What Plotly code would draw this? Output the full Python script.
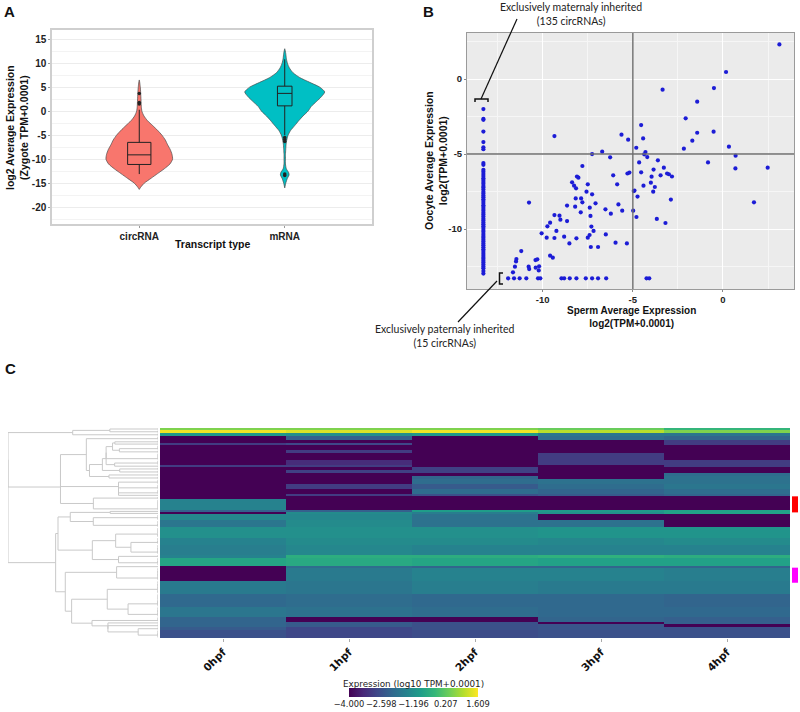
import numpy as np
import plotly.graph_objects as go

# ---------------- DATA ----------------
# Panel A: violin outlines (y level, half-width in category units) and box stats
violin_y_circ = [6.5, 5, 3, 1, 0, -1, -2, -3, -4, -5, -6, -7, -8, -9, -10, -11, -12, -13, -14, -15, -15.8, -16.3]
violin_w_circ = [0, 0.007, 0.011, 0.014, 0.018, 0.032, 0.057, 0.092, 0.126, 0.156, 0.179, 0.195, 0.213, 0.225, 0.229,
                 0.211, 0.172, 0.126, 0.080, 0.034, 0.011, 0]
violin_y_mrna = [13, 12, 11, 10, 9, 8, 7, 6, 5, 4, 3, 2, 1, 0, -1, -2, -3, -4, -5, -6, -7, -8, -9, -10, -11, -12,
                 -12.8, -13.3, -14, -15, -16]
violin_w_mrna = [0, 0.007, 0.011, 0.018, 0.032, 0.057, 0.103, 0.172, 0.241, 0.275, 0.252, 0.218, 0.183, 0.160,
                 0.126, 0.096, 0.069, 0.041, 0.023, 0.014, 0.009, 0.007, 0.005, 0.005, 0.005, 0.011, 0.027,
                 0.030, 0.018, 0.007, 0]
transcript_types = ["circRNA", "mRNA"]
box_q1 = [-11.1, 1.1]
box_median = [-9.1, 3.7]
box_q3 = [-6.5, 5.2]
box_lower = [-13.1, -5.0]
box_upper = [0.3, 10.8]
outliers_circ = [1.5, 1.8, 3.7]
outliers_mrna = [-5.5, -5.9, -6.3, -13.1, -13.4]

# Panel B: sperm vs oocyte log2 expression
detection_floor = -13.29
both_sperm = [3.13, 0.17, -0.5, -3.35, -1.43, -2.07, -4.54, -0.52, -1.43, -9.35, -5.63, -4.43, -5.26, -1.70, 0.33,
              -4.81, -2.17, -6.70, -4.30, -7.26, -4.37, 0.70, -6.26, -4.20, -3.61, -4.65, -0.83, -7.80, -3.28, 0.69,
              2.48, -3.85, -5.19, -5.3, -4.54, -3.1, -3.0, -2.83, -6.09, -8.02, -8.1, -3.96, -3.46, -8.37, -8.26,
              -8.15, -7.5, -5.87, -4.0, -3.78, -3.87, -4.91, -4.95, -4.41, -4.74, -7.57, -7.26, -10.76, -8.17, -7.87,
              -7.8, -7.07, -5.80, -2.89, 1.72, -8.65, -8.2, -7.39, -6.52, -5.59, -4.98, -7.89, -6.22, -9.35, -9.07,
              -7.35, -4.80, -9.02, -8.65, -3.67, -3.19, -9.59, -9.74, -7.30, -7.18, -9.24, -10.06, -9.78, -9.35,
              -8.81, -8.13, -7.5, -7.4, -6.5, -5.96, -5.33, -8.52, -7.33, -6.93, -11.19, -9.59, -9.44, -10.4, -10.3,
              -11.46, -11.48, -11.54, -10.78, -10.75, -10.39, -10.2, -10.22, -11.65]
both_oocyte = [2.31, 0.47, -0.6, -0.71, -1.51, -2.62, -3.07, -3.51, -3.58, -3.8, -3.71, -3.96, -4.04, -4.11, -4.51,
               -4.58, -4.64, -4.84, -4.87, -5.0, -5.02, -5.11, -5.22, -5.2, -5.42, -5.56, -5.56, -5.8, -5.91, -5.96,
               -5.91, -6.04, -6.24, -6.3, -6.22, -6.3, -6.35, -6.5, -6.42, -6.58, -6.5, -6.51, -6.42, -6.89, -7.11,
               -7.29, -7.02, -7.02, -6.91, -7.2, -7.51, -7.44, -7.47, -7.11, -7.84, -7.51, -7.69, -8.24, -7.96, -7.96,
               -8.22, -8.29, -8.36, -8.04, -8.22, -8.44, -8.51, -8.58, -8.69, -8.78, -8.78, -8.89, -8.98, -9.07, -9.11,
               -9.13, -9.2, -9.38, -9.47, -9.33, -9.6, -9.58, -9.82, -9.84, -10.13, -10.13, -10.29, -10.58, -10.6,
               -10.51, -10.62, -10.58, -10.4, -10.36, -10.91, -10.96, -10.96, -11.2, -11.2, -11.47, -11.78, -11.91,
               -12.07, -12.02, -12.0, -12.16, -12.51, -12.51, -12.67, -12.58, -12.49, -12.76, -12.89]
maternal_only_oocyte = [-2.0, -2.66, -2.72, -3.5, -4.2, -4.55, -4.68, -5.6, -5.72, -6.05, -6.18, -6.33, -6.47, -6.61,
                        -6.74, -6.86, -6.99, -7.13, -7.24, -7.37, -7.52, -7.63, -7.77, -7.88, -8.02, -8.14, -8.27,
                        -8.41, -8.53, -8.66, -8.79, -8.92, -9.04, -9.17, -9.31, -9.43, -9.56, -9.69, -9.81, -9.94,
                        -10.07, -10.19, -10.33, -10.46, -10.58, -10.71, -10.84, -10.96, -11.09, -11.22, -11.35,
                        -11.47, -11.6, -11.73, -11.86, -11.98, -12.11, -12.24, -12.37, -12.5, -12.62, -12.8, -12.97]
paternal_only_sperm = [-11.92, -11.59, -11.28, -10.91, -10.26, -10.13, -8.96, -8.81, -8.5, -8.13, -7.61, -7.26,
                       -6.93, -6.48, -4.24, -4.09]
sperm_cutoff = -5
oocyte_cutoff = -5

# Panel C: heatmap row blocks (rows per block) and log10 expression per stage
stages = ["0hpf", "1hpf", "2hpf", "3hpf", "4hpf"]
block_rows = [2, 3, 3, 4, 3, 2, 5, 3, 7, 5, 2, 3, 3, 3, 3, 5, 5, 5, 2, 3, 11, 2, 2, 6, 7, 10, 7, 10, 3, 8, 2, 13,
              13, 13, 10, 5, 2, 3, 3, 8]
expr_0hpf = [0.5, 1.5, -1.0, -4, -4, -3.0, -4, -4, -4, -4, -3.0, -4, -4, -4, -4, -4, -4, -4, -4, -4, -1.5, -2.3, -4,
             -1.4, -1.8, -1.2, -1.5, -1.6, -1.5, -0.7, -4, -4, -1.7, -2.1, -1.8, -2.2, -2.2, -2.2, -2.4, -2.6]
expr_1hpf = [0.5, 1.3, -1.2, -2.3, -4, -2.8, -4, -3.0, -4, -3.3, -3.0, -4, -2.9, -4, -4, -4, -3.0, -4, -3.0, -4, -4,
             -2.3, -1.3, -1.4, -1.3, -1.2, -1.3, -1.4, -0.5, -0.6, -2.0, -1.7, -1.8, -2.0, -1.9, -4, -2.4, -2.4,
             -2.8, -2.8]
expr_2hpf = [0.5, 1.5, -1.0, -4, -4, -4, -4, -4, -4, -4, -4, -2.9, -2.9, -4, -2.2, -2.0, -2.4, -2.0, -2.6, -4, -4,
             -0.9, -1.6, -1.9, -1.9, -1.2, -1.3, -1.5, -0.5, -0.7, -2.2, -1.5, -1.6, -2.1, -2.0, -4, -2.6, -2.6,
             -2.6, -2.7]
expr_3hpf = [0.3, 1.0, -1.8, -2.0, -4, -4, -4, -4, -3.0, -3.0, -4, -4, -4, -4, -4, -1.9, -2.0, -2.2, -2.4, -4, -4,
             -1.0, -1.2, -4, -1.9, -1.1, -1.4, -1.5, -0.4, -0.8, -2.2, -1.5, -1.7, -2.1, -2.1, -2.2, -4, -2.5,
             -2.5, -2.6]
expr_4hpf = [-0.3, 0.5, -1.8, -2.2, -3.0, -3.0, -4, -4, -4, -3.0, -3.0, -4, -4, -2.0, -1.9, -1.9, -1.8, -2.0, -2.2,
             -4, -4, -0.8, -0.8, -4, -4, -1.1, -1.3, -1.5, -0.5, -0.8, -2.2, -1.6, -1.7, -2.2, -2.1, -2.3, -2.3,
             -4, -2.6, -2.6]
side_marks = [(68, 83, "#ff0000"), (139, 153, "#ff00ff")]  # (first row, last row, colour)
cbar_ticks = [-4.0, -2.598, -1.196, 0.207, 1.609]
cbar_ticktext = ["\u22124.000", "\u22122.598", "\u22121.196", "0.207", "1.609"]

# ---------------- HELPERS ----------------
W, H = 800, 712
def px(x):
    return x / W
def py(y):
    return 1 - y / H

SANS = "Liberation Sans, Arial, sans-serif"
NOTE = "Lato, Open Sans, sans-serif"
DJV = "DejaVu Sans, sans-serif"

fig = go.Figure()

# ---------------- PANEL A ----------------
for ci, (vy, vw, col) in enumerate([(violin_y_circ, violin_w_circ, "#F8766D"),
                                    (violin_y_mrna, violin_w_mrna, "#00BFC4")]):
    c = ci + 1
    vy = np.array(vy, float)
    vw = np.array(vw, float)
    xs = np.concatenate([c + vw, (c - vw)[::-1]])
    ys = np.concatenate([vy, vy[::-1]])
    fig.add_trace(go.Scatter(x=xs, y=ys, mode="lines", fill="toself", fillcolor=col,
                             line=dict(color="#4a4a4a", width=0.7, shape="spline", smoothing=0.6),
                             hoverinfo="skip", showlegend=False, xaxis="x", yaxis="y"))

# boxes on an overlaying axis pair so they sit above the filled violins
for ci, bw in enumerate([0.16, 0.10]):
    fig.add_trace(go.Box(x=[ci + 1], q1=[box_q1[ci]], median=[box_median[ci]], q3=[box_q3[ci]],
                         lowerfence=[box_lower[ci]], upperfence=[box_upper[ci]], width=bw, orientation="v",
                         fillcolor="rgba(0,0,0,0)", line=dict(color="#222222", width=1),
                         whiskerwidth=0, boxpoints=False, showlegend=False, xaxis="x5", yaxis="y5"))
fig.add_trace(go.Scatter(x=[1] * len(outliers_circ) + [2] * len(outliers_mrna),
                         y=outliers_circ + outliers_mrna, mode="markers",
                         marker=dict(color="#222222", size=3.5), showlegend=False, xaxis="x5", yaxis="y5"))

# ---------------- PANEL B ----------------
bx = both_sperm + [detection_floor] * len(maternal_only_oocyte) + paternal_only_sperm
by = both_oocyte + maternal_only_oocyte + [detection_floor] * len(paternal_only_sperm)
fig.add_trace(go.Scatter(x=bx, y=by, mode="markers", marker=dict(color="#1c1cd6", size=4.2),
                         showlegend=False, xaxis="x2", yaxis="y2"))

# ---------------- PANEL C ----------------
mat = np.column_stack([np.repeat(np.array(v, float), block_rows)
                       for v in [expr_0hpf, expr_1hpf, expr_2hpf, expr_3hpf, expr_4hpf]])
nrows = mat.shape[0]
fig.add_trace(go.Heatmap(z=mat, x=stages, y=list(range(nrows)), colorscale="Viridis",
                         zmin=cbar_ticks[0], zmax=cbar_ticks[-1], xaxis="x4", yaxis="y4",
                         colorbar=dict(orientation="h", x=px(413.5), xanchor="center", y=py(678), yanchor="top",
                                       xpad=0, ypad=0,
                                       len=129, lenmode="pixels", thickness=9, outlinewidth=0,
                                       title=dict(text="Expression (log10 TPM+0.0001)", side="top",
                                                  font=dict(family=DJV, size=8.8, color="#222")),
                                       tickvals=cbar_ticks, ticktext=cbar_ticktext, ticks="", tickangle=0,
                                       tickfont=dict(family=DJV, size=8.3, color="#222"))))

# dendrogram: adjacency-constrained Ward clustering of heatmap rows
clusters = [dict(mean=mat[i].copy(), n=1, pos=float(i), h=0.0) for i in range(nrows)]
dx, dy = [], []
while len(clusters) > 1:
    best_d, best_i = None, 0
    for i in range(len(clusters) - 1):
        a, b = clusters[i], clusters[i + 1]
        d = np.sqrt(2 * a["n"] * b["n"] / (a["n"] + b["n"])) * np.linalg.norm(a["mean"] - b["mean"])
        if best_d is None or d < best_d:
            best_d, best_i = d, i
    a, b = clusters[best_i], clusters[best_i + 1]
    h = max(best_d, a["h"], b["h"])
    dx += [a["h"], h, h, b["h"], None]
    dy += [a["pos"], a["pos"], b["pos"], b["pos"], None]
    clusters[best_i:best_i + 2] = [dict(mean=(a["mean"] * a["n"] + b["mean"] * b["n"]) / (a["n"] + b["n"]),
                                        n=a["n"] + b["n"], pos=(a["pos"] + b["pos"]) / 2, h=h)]
hmax = clusters[0]["h"]
dxs = [None if v is None else np.sqrt(v) for v in dx]
fig.add_trace(go.Scatter(x=dxs, y=dy, mode="lines", line=dict(color="#c9c9c9", width=1),
                         hoverinfo="skip", showlegend=False, xaxis="x3", yaxis="y3"))

# ---------------- LAYOUT ----------------
axA_y = [py(224), py(30)]
axB_y = [py(289), py(33)]
axC_y = [py(638), py(428)]
tickfontA = dict(family=SANS, size=10, color="#222", weight="bold")
tickfontB = dict(family=SANS, size=9.5, color="#222", weight="bold")
rangeA_x = [0.4, 2.6]
rangeA_y = [-23.5, 16.9]

fig.update_layout(
    width=W, height=H, margin=dict(l=0, r=0, t=0, b=0, autoexpand=False),
    paper_bgcolor="white", plot_bgcolor="white", showlegend=False,
    xaxis=dict(domain=[px(52), px(372)], range=rangeA_x, tickvals=[1, 2], ticktext=transcript_types,
               showgrid=False, zeroline=False, showline=True, mirror=True, linecolor="#cfcfcf", linewidth=1.5,
               ticks="outside", ticklen=2, tickcolor="#999", tickfont=tickfontA, anchor="y"),
    yaxis=dict(domain=axA_y, range=rangeA_y, tickvals=[-20, -15, -10, -5, 0, 5, 10, 15],
               ticktext=["-20", "-15", "-10", "-5", "0", "5", "10", "15"],
               showgrid=True, gridcolor="#ececec", gridwidth=1, zeroline=False,
               minor=dict(dtick=2.5, tick0=0, showgrid=True, gridcolor="#f3f3f3", gridwidth=1, ticks=""),
               showline=True, mirror=True, linecolor="#cfcfcf", linewidth=1.5,
               ticks="outside", ticklen=2, tickcolor="#999", tickfont=tickfontA, anchor="x"),
    xaxis5=dict(overlaying="x", range=rangeA_x, visible=False, anchor="y5"),
    yaxis5=dict(overlaying="y", range=rangeA_y, visible=False, anchor="x5"),
    xaxis2=dict(domain=[px(467), px(794)], range=[-14.2, 3.94], tickvals=[-10, -5, 0],
                ticktext=["-10", "-5", "0"], showgrid=True, gridcolor="white", gridwidth=1.2, zeroline=False,
                minor=dict(tickvals=[-12.5, -7.5, -2.5, 2.5], showgrid=True, gridcolor="#f6f6f6", gridwidth=0.7),
                showline=True, mirror=True, linecolor="#9a9a9a", linewidth=1,
                ticks="outside", ticklen=2, tickcolor="#888", tickfont=tickfontB, anchor="y2"),
    yaxis2=dict(domain=axB_y, range=[-14.0, 3.07], tickvals=[-10, -5, 0], ticktext=["-10", "-5", "0"],
                showgrid=True, gridcolor="white", gridwidth=1.2, zeroline=False,
                minor=dict(tickvals=[-12.5, -7.5, -2.5, 2.5], showgrid=True, gridcolor="#f6f6f6", gridwidth=0.7),
                showline=True, mirror=True, linecolor="#9a9a9a", linewidth=1,
                ticks="outside", ticklen=2, tickcolor="#888", tickfont=tickfontB, anchor="x2"),
    xaxis3=dict(domain=[px(8), px(158)], range=[np.sqrt(hmax), 0], visible=False, anchor="y3"),
    yaxis3=dict(domain=axC_y, range=[nrows - 0.5, -0.5], visible=False, anchor="x3"),
    xaxis4=dict(domain=[px(160), px(790)], showgrid=False, zeroline=False, ticks="outside", ticklen=3,
                tickcolor="#aaa", tickangle=-45,
                tickfont=dict(family=DJV, size=10.5, color="#111", weight="bold"), anchor="y4"),
    yaxis4=dict(domain=axC_y, range=[nrows - 0.5, -0.5], visible=False, anchor="x4"),
)
# panel B gray background
fig.add_shape(type="rect", xref="x2 domain", yref="y2 domain", x0=0, x1=1, y0=0, y1=1,
              fillcolor="#ebebeb", line=dict(width=0), layer="below")
fig.add_shape(type="line", xref="x2", yref="y2 domain", x0=sperm_cutoff, x1=sperm_cutoff, y0=0, y1=1,
              line=dict(color="#6e6e6e", width=1.4))
fig.add_shape(type="line", xref="x2 domain", yref="y2", x0=0, x1=1, y0=oocyte_cutoff, y1=oocyte_cutoff,
              line=dict(color="#6e6e6e", width=1.4))

# brackets and leader lines (panel B)
fig.add_shape(type="path", xref="paper", yref="paper",
              path=f"M {px(475)} {py(102)} L {px(475)} {py(99)} L {px(488)} {py(99)} L {px(488)} {py(102)}",
              line=dict(color="#111", width=1.5))
fig.add_shape(type="line", xref="paper", yref="paper", x0=px(481), y0=py(99), x1=px(517), y1=py(19),
              line=dict(color="#111", width=1.2))
fig.add_shape(type="path", xref="paper", yref="paper",
              path=f"M {px(503)} {py(273)} L {px(499.5)} {py(273)} L {px(499.5)} {py(284)} L {px(503)} {py(284)}",
              line=dict(color="#111", width=1.5))
fig.add_shape(type="line", xref="paper", yref="paper", x0=px(497), y0=py(281), x1=px(458), y1=py(322),
              line=dict(color="#111", width=1.2))

# side cluster marks (panel C)
for r0, r1, colr in side_marks:
    fig.add_shape(type="rect", xref="paper", yref="y4", x0=px(792), x1=px(798), y0=r0 - 0.5, y1=r1 + 0.5,
                  fillcolor=colr, line=dict(width=0))

def ann(text, x, y, size, family=SANS, bold=True, angle=0, color="#111"):
    fig.add_annotation(text=text, x=px(x), y=py(y), xref="paper", yref="paper", showarrow=False,
                       xanchor="center", yanchor="middle", textangle=angle,
                       font=dict(family=family, size=size, color=color, weight="bold" if bold else "normal"))

ann("A", 9, 11, 15)
ann("B", 428, 11, 15)
ann("C", 10, 368, 15)
ann("log2 Average Expression<br>(Zygote TPM+0.0001)", 17, 128, 10.5, angle=-90)
ann("Transcript type", 212, 244, 10.5)
ann("Oocyte Average Expression<br>log2(TPM+0.0001)", 436, 161, 10.5, angle=-90)
ann("Sperm Average Expression<br>log2(TPM+0.0001)", 631, 316.5, 10)
ann("Exclusively maternaly inherited<br>(135 circRNAs)", 571, 14, 10.5, family=NOTE, bold=False, color="#222")
ann("Exclusively paternaly inherited<br>(15 circRNAs)", 445, 336, 10.5, family=NOTE, bold=False, color="#222")

fig.write_html("out.html")
